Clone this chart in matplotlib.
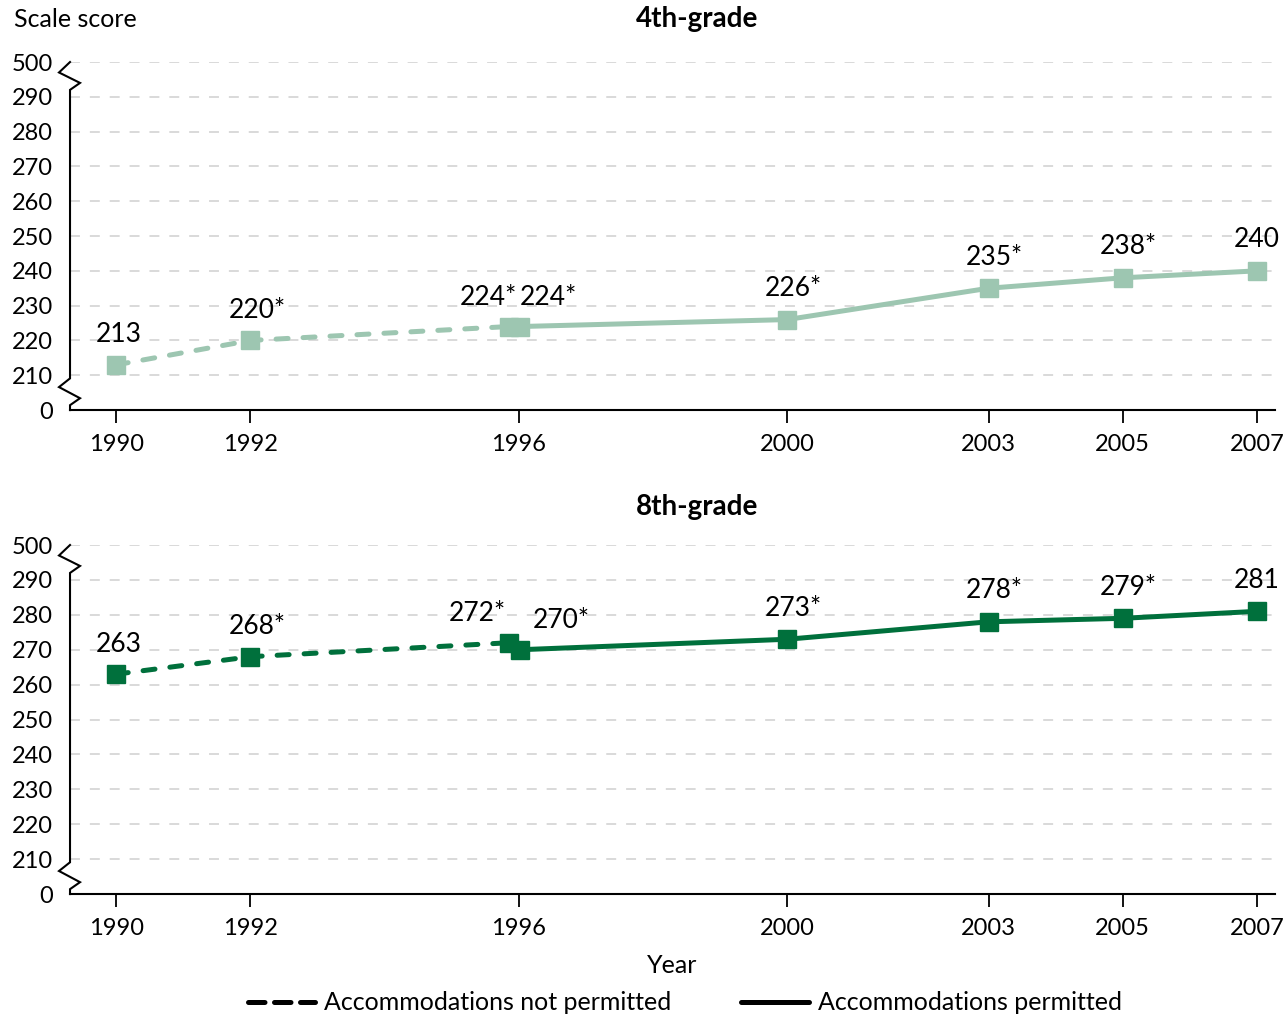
import matplotlib
matplotlib.use("Agg")
import matplotlib.pyplot as plt
import matplotlib.transforms as mtransforms
from matplotlib.lines import Line2D

plt.rcParams['font.family'] = ['Lato', 'DejaVu Sans']

# data
years_not_permitted = [1990, 1992, 1996]
years_permitted = [1996, 2000, 2003, 2005, 2007]

grade4_not_permitted = [213, 220, 224]
grade4_not_permitted_labels = ['213', '220*', '224*']
grade4_permitted = [224, 226, 235, 238, 240]
grade4_permitted_labels = ['224*', '226*', '235*', '238*', '240']

grade8_not_permitted = [263, 268, 272]
grade8_not_permitted_labels = ['263', '268*', '272*']
grade8_permitted = [270, 273, 278, 279, 281]
grade8_permitted_labels = ['270*', '273*', '278*', '279*', '281']

tick_years = [1990, 1992, 1996, 2000, 2003, 2005, 2007]
# axis is broken: 0 sits one step below 210 and 500 one step above 290
y_positions = list(range(200, 301, 10))
y_labels = ['0'] + [str(v) for v in range(210, 291, 10)] + ['500']

LIGHT = '#9dc6b1'
DARK = '#00703c'
PX = 72 / 100  # points per pixel at dpi 100


def draw_panel(ax, color, np_vals, np_labels, p_vals, p_labels, split_offsets):
    ax.set_xlim(1989.31, 2007.27)
    ax.set_ylim(200, 300)
    for s in ['top', 'right', 'left']:
        ax.spines[s].set_visible(False)
    ax.spines['bottom'].set_linewidth(1.5)

    ax.set_yticks(y_positions)
    ax.set_yticklabels(y_labels)
    ax.tick_params(axis='y', length=0, pad=12, labelsize=17)
    ax.set_xticks(tick_years)
    ax.set_xticklabels([str(y) for y in tick_years])
    ax.tick_params(axis='x', length=9, width=1.3, pad=8, labelsize=17)

    # light dashed grid, skip the bottom one which is the axis line
    for yv in y_positions[1:]:
        ax.axhline(yv, color='#cfcfcf', linewidth=1.1, dashes=(6.5, 6.5), zorder=0)

    # left axis with zigzag break marks
    trans = mtransforms.blended_transform_factory(ax.transAxes, ax.transData)
    w = 1205.0
    bx = [0, -11 / w, 10 / w, 0, 0, -11 / w, 10 / w, 0, 0]
    by = [300, 297, 294, 292, 209.1, 206.6, 203.4, 201.4, 200]
    ax.add_line(Line2D(bx, by, transform=trans, color='black', linewidth=1.5,
                       clip_on=False, solid_joinstyle='miter'))

    x_np = list(years_not_permitted)
    x_p = list(years_permitted)
    x_np[-1] += split_offsets[0]
    x_p[0] += split_offsets[1]

    ax.plot(x_np, np_vals, color=color, linewidth=3.6, dashes=(2.4, 3.0),
            dash_capstyle='round', marker='s', markersize=13, zorder=3)
    ax.plot(x_p, p_vals, color=color, linewidth=3.6, solid_capstyle='butt',
            marker='s', markersize=13, zorder=3)

    # value labels above the points
    for i, (x, v, lab) in enumerate(zip(x_np, np_vals, np_labels)):
        if i == len(x_np) - 1:
            ax.annotate(lab, (x, v), xytext=(split_offsets[2] * PX, 29 * PX),
                        textcoords='offset points', ha='right', va='center', fontsize=19)
        else:
            dx = 7 if '*' in lab else 2
            ax.annotate(lab, (x, v), xytext=(dx * PX, 30 * PX),
                        textcoords='offset points', ha='center', va='center', fontsize=19)
    for i, (x, v, lab) in enumerate(zip(x_p, p_vals, p_labels)):
        if i == 0:
            ax.annotate(lab, (x, v), xytext=(split_offsets[3] * PX, 29 * PX),
                        textcoords='offset points', ha='left', va='center', fontsize=19)
        else:
            dx = 6 if '*' in lab else 0
            ax.annotate(lab, (x, v), xytext=(dx * PX, 31 * PX),
                        textcoords='offset points', ha='center', va='center', fontsize=19)


fig = plt.figure(figsize=(12.87, 10.17), dpi=100)
ax1 = fig.add_axes([0.0544, 0.5968, 0.9363, 0.3422])
ax2 = fig.add_axes([0.0544, 0.1209, 0.9363, 0.3432])

draw_panel(ax1, LIGHT, grade4_not_permitted, grade4_not_permitted_labels,
           grade4_permitted, grade4_permitted_labels, (-0.15, 0.02, 8, 0))
draw_panel(ax2, DARK, grade8_not_permitted, grade8_not_permitted_labels,
           grade8_permitted, grade8_permitted_labels, (-0.15, 0.02, -3, 13))

fig.text(0.5416, 0.9813, '4th-grade', fontsize=20, fontweight='bold', ha='center', va='center')
fig.text(0.5416, 0.5015, '8th-grade', fontsize=20, fontweight='bold', ha='center', va='center')
fig.text(0.011, 0.981, 'Scale score', fontsize=18, ha='left', va='center')
fig.text(0.522, 0.051, 'Year', fontsize=18, ha='center', va='center')

dashed_proxy = Line2D([0], [0], color='black', linewidth=3.6, dashes=(3.3, 1.9),
                      dash_capstyle='round', label='Accommodations not permitted')
solid_proxy = Line2D([0], [0], color='black', linewidth=3.6, solid_capstyle='round',
                     label='Accommodations permitted')
fig.legend(handles=[dashed_proxy, solid_proxy], loc='center', ncol=2,
           bbox_to_anchor=(0.532, 0.0138), frameon=False, fontsize=18,
           handlelength=2.7, handletextpad=0.35, columnspacing=2.8)

plt.savefig('out.png', dpi=100)
plt.close()
